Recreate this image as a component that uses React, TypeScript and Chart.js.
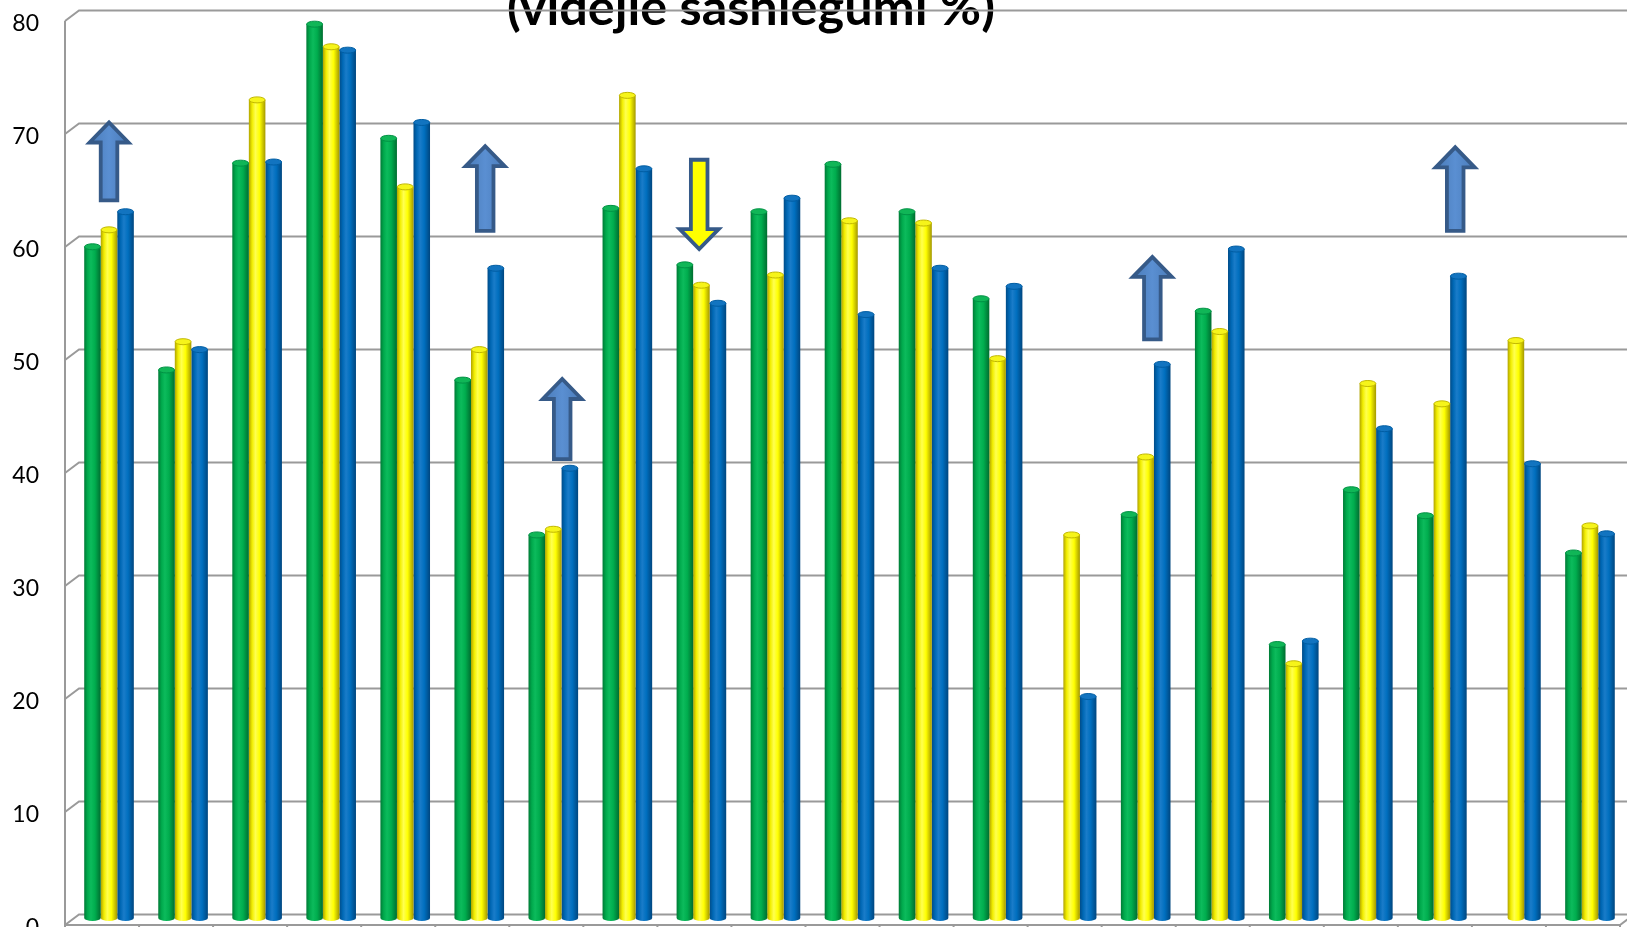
import React, { useEffect, useRef } from "react";
import { Chart, registerables } from "chart.js";

Chart.register(...registerables);

// ---------- data ----------
const categories = ["1", "2", "3", "4", "5", "6", "7", "8", "9", "10", "11", "12", "13", "14", "15", "16", "17", "18", "19", "20", "21"];
const seriesNames = ["Sērija 1", "Sērija 2", "Sērija 3"];
const greenValues = [59.4, 48.5, 66.8, 79.1, 69.0, 47.6, 33.9, 62.8, 57.8, 62.5, 66.7, 62.5, 54.8, null, 35.7, 53.7, 24.2, 37.9, 35.6, null, 32.3];
const yellowValues = [60.9, 51.0, 72.4, 77.1, 64.7, 50.3, 34.4, 72.8, 56.0, 56.9, 61.7, 61.5, 49.5, 33.9, 40.8, 51.9, 22.5, 47.3, 45.5, 51.1, 34.7];
const blueValues = [62.5, 50.3, 66.9, 76.8, 70.4, 57.5, 39.8, 66.3, 54.4, 63.7, 53.4, 57.5, 55.9, 19.6, 49.0, 59.2, 24.5, 43.3, 56.8, 40.2, 34.0];
const yTicks = [0, 10, 20, 30, 40, 50, 60, 70, 80];
const titleText = "(vidējie sasniegumi %)";
// arrow annotations: category position, value at tail, value at tip
const arrowCategory = [0, 5.08, 6.12, 7.97, 14.09, 18.18];
const arrowTail = [63.5, 60.8, 40.6, 67.1, 51.2, 60.8];
const arrowTip = [70.4, 68.3, 47.7, 59.2, 58.5, 68.2];

// ---------- styling ----------
const W = 1627;
const H = 927;
const CAT_PCT = 0.67;
const DEPTH_X = 14;
const DEPTH_Y = 10.5;
const BAR_DX = 7;
const BAR_DY = -7;
const GRID = "#9a9a9a";
const FONT = "Lato, 'Open Sans', sans-serif";

type Stop = [number, string];
const greenStops: Stop[] = [[0, "#007a36"], [0.2, "#00a94c"], [0.4, "#0cbb5c"], [0.65, "#00ad4e"], [1, "#006d30"]];
const yellowStops: Stop[] = [[0, "#b0a300"], [0.2, "#f2ee00"], [0.4, "#ffff50"], [0.65, "#ffff00"], [1, "#a49800"]];
const blueStops: Stop[] = [[0, "#004c88"], [0.2, "#0068b5"], [0.4, "#1a7cc9"], [0.65, "#006fbf"], [1, "#00467f"]];
const capFill = ["#10b657", "#f6f41a", "#1274c0"];
const capStroke = ["#009244", "#c2b800", "#005da3"];

function cylinder(stops: Stop[]) {
  return (c: any) => {
    const chart = c.chart;
    const xs = chart.scales && chart.scales.x;
    if (!xs || c.dataIndex == null || !chart.chartArea) return stops[3][1];
    const n = chart.data.labels.length;
    const cat = (xs.right - xs.left) / n;
    const group = cat * CAT_PCT;
    const bw = group / 3;
    const cx = xs.getPixelForValue(c.dataIndex) - group / 2 + bw * (c.datasetIndex + 0.5);
    const g = chart.ctx.createLinearGradient(cx - bw / 2, 0, cx + bw / 2, 0);
    stops.forEach(([o, col]) => g.addColorStop(o, col));
    return g;
  };
}

function drawArrow(ctx: CanvasRenderingContext2D, x: number, yTail: number, yTip: number) {
  const down = yTip > yTail;
  const dir = down ? 1 : -1;
  const headH = 20;
  const headW = 19.5;
  const shaftW = 8.3;
  const yBase = yTip - dir * headH;
  ctx.beginPath();
  ctx.moveTo(x - shaftW, yTail);
  ctx.lineTo(x - shaftW, yBase);
  ctx.lineTo(x - headW, yBase);
  ctx.lineTo(x, yTip);
  ctx.lineTo(x + headW, yBase);
  ctx.lineTo(x + shaftW, yBase);
  ctx.lineTo(x + shaftW, yTail);
  ctx.closePath();
  if (down) {
    ctx.fillStyle = "#ffff00";
  } else {
    const g = ctx.createLinearGradient(x - headW, 0, x + headW, 0);
    g.addColorStop(0, "#4a7bb8");
    g.addColorStop(0.5, "#5a8fd2");
    g.addColorStop(1, "#4a7bb8");
    ctx.fillStyle = g;
  }
  ctx.fill();
  ctx.lineWidth = 3.8;
  ctx.lineJoin = "miter";
  ctx.strokeStyle = "#365a88";
  ctx.stroke();
}

const frame3d = {
  id: "frame3d",
  beforeDraw(chart: any) {
    const { ctx, width } = chart;
    const ys = chart.scales.y;
    const xs = chart.scales.x;
    const { left: L, right: R } = chart.chartArea;
    ctx.save();
    ctx.fillStyle = "#ffffff";
    ctx.fillRect(0, 0, chart.width, chart.height);

    // title (partly cut at top, as in the reference)
    let size = 40;
    ctx.font = `bold ${size}px ${FONT}`;
    const tw = ctx.measureText(titleText).width;
    size = (size * 488) / tw;
    ctx.font = `bold ${size}px ${FONT}`;
    ctx.fillStyle = "#000";
    ctx.textAlign = "center";
    ctx.textBaseline = "alphabetic";
    ctx.fillText(titleText, 751, 25);

    // walls / gridlines
    ctx.strokeStyle = GRID;
    ctx.lineWidth = 2;
    for (const v of yTicks) {
      const yf = ys.getPixelForValue(v);
      ctx.beginPath();
      ctx.moveTo(L, yf);
      ctx.lineTo(L + DEPTH_X, yf - DEPTH_Y);
      ctx.lineTo(width, yf - DEPTH_Y);
      ctx.stroke();
    }
    const yTop = ys.getPixelForValue(yTicks[yTicks.length - 1]);
    const y0 = ys.getPixelForValue(0);
    ctx.beginPath();
    ctx.moveTo(L, yTop);
    ctx.lineTo(L, y0);
    ctx.stroke();
    ctx.beginPath();
    ctx.moveTo(L, y0);
    ctx.lineTo(R, y0);
    ctx.lineTo(R + DEPTH_X, y0 - DEPTH_Y);
    ctx.stroke();
    for (let k = 0; k <= categories.length; k++) {
      const x = xs.getPixelForValue(k - 0.5);
      ctx.beginPath();
      ctx.moveTo(x, y0);
      ctx.lineTo(x, y0 + 7);
      ctx.stroke();
    }

    // y labels
    ctx.fillStyle = "#000";
    ctx.font = `23px ${FONT}`;
    ctx.textAlign = "right";
    ctx.textBaseline = "middle";
    for (const v of yTicks) {
      ctx.fillText(String(v), 39, ys.getPixelForValue(v) + 2.5);
    }
    ctx.restore();
  },
  beforeDatasetsDraw(chart: any) {
    chart.ctx.save();
    chart.ctx.translate(BAR_DX, BAR_DY);
  },
  afterDatasetsDraw(chart: any) {
    const ctx: CanvasRenderingContext2D = chart.ctx;
    chart.data.datasets.forEach((ds: any, di: number) => {
      const meta = chart.getDatasetMeta(di);
      meta.data.forEach((el: any, i: number) => {
        if (ds.data[i] == null) return;
        const rx = el.width / 2;
        // bottom rounding
        ctx.beginPath();
        ctx.ellipse(el.x, el.base, rx, 3, 0, 0, Math.PI);
        ctx.fillStyle = el.options.backgroundColor;
        ctx.fill();
        // top cap
        ctx.beginPath();
        ctx.ellipse(el.x, el.y, rx - 0.3, 3, 0, 0, Math.PI * 2);
        ctx.fillStyle = capFill[di];
        ctx.fill();
        ctx.lineWidth = 1;
        ctx.strokeStyle = capStroke[di];
        ctx.stroke();
      });
    });
    ctx.restore();

    const xs = chart.scales.x;
    const ys = chart.scales.y;
    ctx.save();
    arrowCategory.forEach((c, i) => {
      const x = xs.getPixelForValue(c) + BAR_DX;
      drawArrow(ctx, x, ys.getPixelForValue(arrowTail[i]) + BAR_DY, ys.getPixelForValue(arrowTip[i]) + BAR_DY);
    });
    ctx.restore();
  },
};

export default function App() {
  const ref = useRef<HTMLCanvasElement | null>(null);
  useEffect(() => {
    document.body.style.margin = "0";
    const canvas = ref.current;
    if (!canvas) return;
    const chart = new Chart(canvas, {
      type: "bar",
      data: {
        labels: categories,
        datasets: [
          { label: seriesNames[0], data: greenValues, backgroundColor: cylinder(greenStops), clip: false } as any,
          { label: seriesNames[1], data: yellowValues, backgroundColor: cylinder(yellowStops), clip: false } as any,
          { label: seriesNames[2], data: blueValues, backgroundColor: cylinder(blueStops), clip: false } as any,
        ],
      },
      options: {
        responsive: false,
        animation: false,
        devicePixelRatio: 1,
        layout: { padding: { left: 65, right: 7, top: 21, bottom: 2 } },
        datasets: { bar: { categoryPercentage: CAT_PCT, barPercentage: 1, borderWidth: 0 } },
        plugins: { legend: { display: false }, title: { display: false }, tooltip: { enabled: false } },
        scales: {
          x: { display: false, offset: true },
          y: { display: false, min: 0, max: 80 },
        },
      } as any,
      plugins: [frame3d],
    });
    return () => chart.destroy();
  }, []);
  return (
    <div style={{ position: "fixed", left: 0, top: 0, width: W, height: H, background: "#fff" }}>
      <canvas ref={ref} width={W} height={H} style={{ display: "block", width: W, height: H }} />
    </div>
  );
}
